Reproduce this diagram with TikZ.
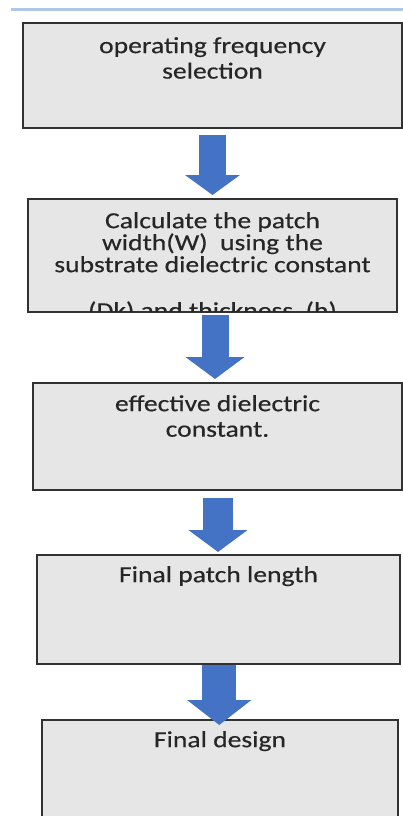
\documentclass[tikz,border=0pt]{standalone}
\usepackage{fontspec}
\setmainfont{Carlito}[FakeStretch=1.2, FakeBold=0.4]
\usepackage{xcolor}
\usetikzlibrary{calc}
\usetikzlibrary{positioning}
\usetikzlibrary{arrows.meta}
\definecolor{boxgray}{RGB}{230,230,230}
\definecolor{edgegray}{RGB}{50,50,50}
\definecolor{flowblue}{RGB}{68,114,196}
\definecolor{rulebluelight}{RGB}{175,198,232}
\tikzset{
stepbox/.style 2 args={draw=edgegray, fill=boxgray, line width=1.6pt, inner sep=0pt, outer sep=0pt,
	minimum width=#1, minimum height=#2},
boxtext/.style={anchor=north, inner sep=0pt, align=center, text=black!85,
	font={\fontsize{23}{25.5}\selectfont}},
flow/.style n args={3}{draw=flowblue, line width=#1,
	-{Triangle[width=#2, length=#3]}},
}

\begin{document}
\begin{tikzpicture}[x=1pt, y=-1pt]
\clip (0,0) rectangle (403,816);

\coordinate (rulel) at (11,10);
\coordinate (ruler) at (403,10);
\draw[rulebluelight, line width=3pt] (rulel) -- (ruler);

\node[stepbox={379pt}{105pt}] (freq) at (212.5,75.5) {};
\node[stepbox={369pt}{113pt}] (width) at (212.5,255.5) {};
\node[stepbox={369pt}{107pt}] (eff) at (217.5,436.5) {};
\node[stepbox={363pt}{109pt}] (length) at (218.5,609.5) {};
\node[stepbox={356pt}{180pt}] (design) at (220,810) {};

%
\node[boxtext, below=14pt of freq.north] (freqtext) {operating frequency\\selection};
\begin{scope}
\clip ($(width.south west)+(1pt,1pt)$) rectangle ($(width.north east)+(-1pt,-1pt)$);
\node[boxtext, font={\fontsize{23}{22}\selectfont}, below=13pt of width.north] (widthtext)
	{Calculate the patch\\width(W)\ \ using the\\substrate dielectric constant\\[24pt](Dk) and thickness\ \ (h)};
\end{scope}
\node[boxtext, below=12pt of eff.north] (efftext) {effective dielectric\\constant.};
\node[boxtext, below=11pt of length.north] (lengthtext) {Final patch length};
\node[boxtext, below=11pt of design.north] (designtext) {Final design};

%
\coordinate (m1) at ($(freq.south)!.5!(width.north)$);
\coordinate (m2) at ($(width.south)!.5!(eff.north)$);
\coordinate (m3) at ($(eff.south)!.5!(length.north)$);
\coordinate (m4) at ($(length.south)!.5!(design.north)$);
\draw[flow={27pt}{54pt}{20pt}, shorten <=7pt, shorten >=4pt] (m1 |- freq.south) -- (m1 |- width.north);
\draw[flow={27pt}{58pt}{22pt}, shorten <=3pt, shorten >=4pt] (m2 |- width.south) -- (m2 |- eff.north);
\draw[flow={30pt}{58pt}{22pt}, shorten <=8pt, shorten >=3pt] (m3 |- eff.south) -- (m3 |- length.north);
\draw[flow={34pt}{63pt}{25pt}, shorten <=1pt, shorten >=-5pt] (m4 |- length.south) -- (m4 |- design.north);
\end{tikzpicture}
\end{document}
